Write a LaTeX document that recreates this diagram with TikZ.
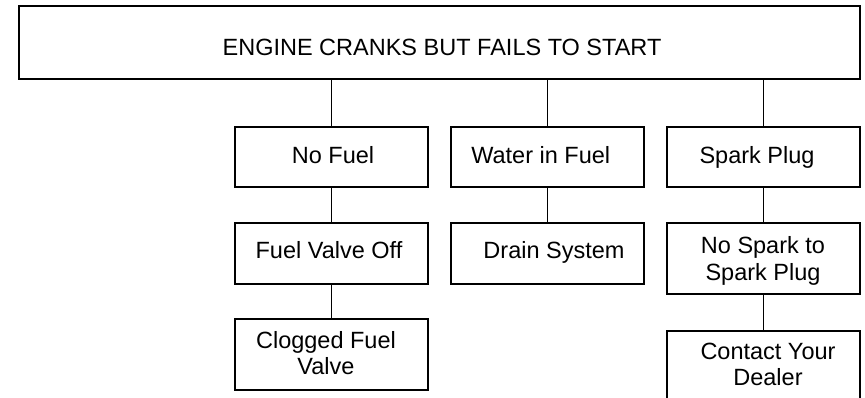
\documentclass[tikz,border=0pt]{standalone}
\usepackage{fontspec}
\setmainfont{Liberation Sans}
\begin{document}
\begin{tikzpicture}[x=1pt,y=-1pt,
  box/.style={draw, line width=1.9pt, inner sep=0pt, minimum width=193pt},
  lbl/.style={inner sep=0pt, align=center, font=\fontsize{23.5pt}{26.5pt}\selectfont},
  link/.style={line width=1.9pt}]
\useasboundingbox (0,0) rectangle (865,397);
% boxes
\node[box, minimum width=841pt, minimum height=73pt] (top) at (439.5,42.5) {};
\node[box, minimum height=60pt] (nofuel) at (331.5,157) {};
\node[box, minimum height=60pt] (water) at (547.5,157) {};
\node[box, minimum height=60pt] (spark) at (763.5,157) {};
\node[box, minimum height=61pt] (valveoff) at (331.5,253.5) {};
\node[box, minimum height=61pt] (drain) at (547.5,253.5) {};
\node[box, minimum height=71pt] (nospark) at (763.5,258.5) {};
\node[box, minimum height=71pt] (clogged) at (331.5,354.5) {};
\node[box, minimum height=68pt] (dealer) at (763.5,365) {};
% texts
\node[lbl, anchor=base] (top-t) at (442,55) {ENGINE CRANKS BUT FAILS TO START};
\node[lbl, anchor=base] (nofuel-t) at (333,163.3) {No Fuel};
\node[lbl, anchor=base] (water-t) at (540.7,163.3) {Water in Fuel};
\node[lbl, anchor=base] (spark-t) at (757,163.3) {Spark Plug};
\node[lbl, anchor=base] (valveoff-t) at (329,258.5) {Fuel Valve Off};
\node[lbl, anchor=base] (drain-t) at (554,258.5) {Drain System};
\node[lbl] (nospark-t) at (763,260.7) {No Spark to\\Spark Plug};
\node[lbl] (clogged-t) at (326,352.9) {Clogged Fuel\\Valve};
\node[lbl] (dealer-t) at (768,364.6) {Contact Your\\Dealer};
% connectors
\draw[link] (top.south -| nofuel.north) -- (nofuel.north);
\draw[link] (top.south -| water.north) -- (water.north);
\draw[link] (top.south -| spark.north) -- (spark.north);
\draw[link] (nofuel.south) -- (valveoff.north);
\draw[link] (valveoff.south) -- (clogged.north);
\draw[link] (water.south) -- (drain.north);
\draw[link] (spark.south) -- (nospark.north);
\draw[link] (nospark.south) -- (dealer.north);
\end{tikzpicture}
\end{document}
